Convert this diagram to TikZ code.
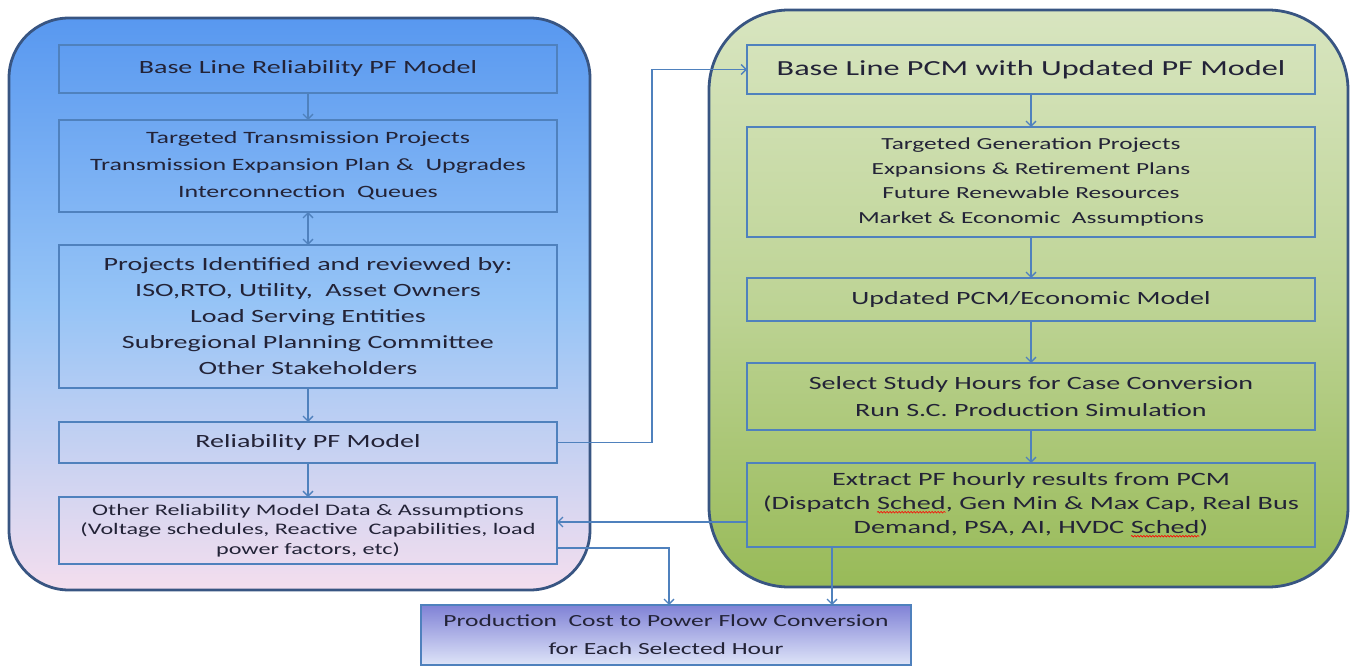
\documentclass[tikz,border=0pt]{standalone}
\usepackage{fontspec}
\setmainfont{Carlito}[FakeStretch=1.5]
\usetikzlibrary{arrows.meta,decorations.pathmorphing}
\definecolor{lnblue}{RGB}{79,129,189}
\definecolor{pnborder}{RGB}{56,85,130}
\definecolor{txt}{RGB}{35,35,55}
\definecolor{lptop}{RGB}{88,152,240}
\definecolor{lpmid}{RGB}{150,196,246}
\definecolor{lpbot}{RGB}{244,222,238}
\definecolor{rptop}{RGB}{216,229,192}
\definecolor{rpmid}{RGB}{190,212,150}
\definecolor{rpbot}{RGB}{152,186,88}
\definecolor{pbtop}{RGB}{128,130,214}
\definecolor{pbbot}{RGB}{222,228,248}
\newcommand{\spellerr}[1]{\tikz[baseline=(sw.base)]{\node[inner sep=0pt,outer sep=0pt,minimum width=0pt,minimum height=0pt,draw=none,fill=none] (sw) {#1};\draw[red,line width=0.6pt,decorate,decoration={snake,amplitude=0.8pt,segment length=3pt}] ([yshift=-2.5pt]sw.base west) -- ([yshift=-2.5pt]sw.base east);}}
\begin{document}
\begin{tikzpicture}[x=1pt,y=-1pt,
  lpanel/.style={draw=pnborder,line width=2.8pt,rounded corners=60pt,inner sep=0pt,outer sep=0pt,
    top color=lptop,bottom color=lpbot,middle color=lpmid},
  rpanel/.style={draw=pnborder,line width=2.8pt,rounded corners=80pt,inner sep=0pt,outer sep=0pt,
    top color=rptop,bottom color=rpbot,middle color=rpmid},
  box/.style={draw=lnblue,line width=1.2pt,inner sep=0pt,outer sep=0pt,text=txt,align=center},
  lbox/.style={box,minimum width=498pt},
  rbox/.style={box,minimum width=568pt},
  fa/.style={font=\fontsize{18.7}{26}\selectfont},
  arr/.style={draw=lnblue,line width=1.3pt,-{Straight Barb[length=5pt,width=10pt]}},
  darr/.style={draw=lnblue,line width=1.3pt,{Straight Barb[length=5pt,width=10pt]}-{Straight Barb[length=5pt,width=10pt]}}]
\useasboundingbox (0,0) rectangle (1357,666);
% panels
\node[lpanel,minimum width=581pt,minimum height=572pt] (LP) at (299.5,304) {};
\node[rpanel,minimum width=639pt,minimum height=577pt] (RP) at (1028.5,298.5) {};
% left column
\node[lbox,fa,minimum height=48pt] (B1) at (308,69) {Base Line Reliability PF Model};
\node[lbox,minimum height=92pt,font=\fontsize{17.3}{27}\selectfont] (B2) at (308,166)
  {Targeted Transmission Projects\\Transmission Expansion Plan \&\ \ Upgrades\\Interconnection\ \ Queues};
\node[lbox,fa,minimum height=143pt] (B3) at (308,316.5)
  {Projects Identified and reviewed by:\\ISO,RTO, Utility,\ \ Asset Owners\\Load Serving Entities\\Subregional Planning Committee\\Other Stakeholders};
\node[lbox,fa,minimum height=41pt] (B4) at (308,442.5) {Reliability PF Model};
\node[lbox,minimum height=67pt,font=\fontsize{16.1}{19.5}\selectfont] (B5) at (308,530.5)
  {Other Reliability Model Data \& Assumptions\\(Voltage schedules, Reactive\ \ Capabilities, load\\power factors, etc)};
% right column
\node[rbox,minimum height=49pt,font=\fontsize{21.5}{26}\selectfont] (R1) at (1031,69.5) {Base Line PCM with Updated PF Model};
\node[rbox,minimum height=110pt,font=\fontsize{16.9}{24.5}\selectfont] (R2) at (1031,182)
  {Targeted Generation Projects\\Expansions \& Retirement Plans\\Future Renewable Resources\\Market \& Economic\ \ Assumptions};
\node[rbox,fa,minimum height=43pt] (R3) at (1031,299.5) {Updated PCM/Economic Model};
\node[rbox,fa,minimum height=67pt,font=\fontsize{18.7}{27}\selectfont] (R4) at (1031,396.5)
  {Select Study Hours for Case Conversion\\Run S.C. Production Simulation};
\node[rbox,minimum height=84pt,font=\fontsize{18.8}{24}\selectfont] (R5) at (1031,505)
  {Extract PF hourly results from PCM\\(Dispatch \spellerr{Sched}, Gen Min \& Max Cap, Real Bus\\Demand, PSA, AI, HVDC \spellerr{Sched})};
% bottom box
\node[box,minimum width=490pt,minimum height=60pt,top color=pbtop,bottom color=pbbot,
  font=\fontsize{17}{28}\selectfont] (P) at (666,635)
  {Production\ \ Cost to Power Flow Conversion\\for Each Selected Hour};
% helper coordinates
\coordinate (up1) at (652,69.5);
\coordinate (r5w) at (747,522);
\coordinate (b5e) at (556,548);
\coordinate (pin1) at (669,605);
\coordinate (pin2) at (832,605);
% connectors
\draw[arr] (B1) -- (B2);
\draw[darr] (B2) -- (B3);
\draw[arr] (B3) -- (B4);
\draw[arr] (B4) -- (B5);
\draw[arr] (B4.east) -| (up1) -- (R1.west);
\draw[arr] (R1) -- (R2);
\draw[arr] (R2) -- (R3);
\draw[arr] (R3) -- (R4);
\draw[arr] (R4) -- (R5);
\draw[arr] (r5w) -- (r5w -| B5.east);
\draw[arr] (b5e) -| (pin1);
\draw[arr] (R5.south -| pin2) -- (pin2);
\end{tikzpicture}
\end{document}
